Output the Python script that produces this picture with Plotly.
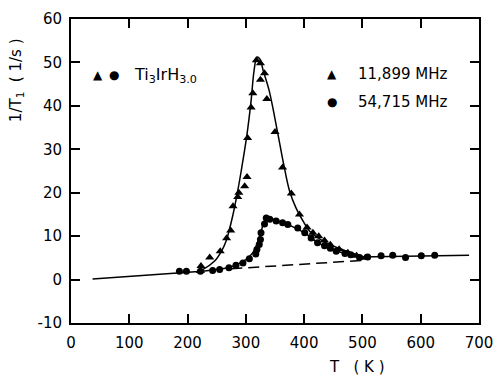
import plotly.graph_objects as go

# 11,899 MHz data (triangles)
tri_T = [222, 223, 238, 256, 267, 274, 278, 286, 288, 298, 302, 303, 309, 312, 318,
         325, 325, 332, 336, 350, 363, 378, 392, 405, 415, 425, 435, 445, 460, 475, 490, 505]
tri_v = [2.0, 3.1, 5.1, 6.5, 9.5, 11.3, 16.9, 19.0, 20.0, 21.5, 23.6, 32.6, 39.6, 42.9, 50.5,
         49.8, 46.0, 47.5, 41.6, 34.0, 25.8, 19.8, 15.0, 12.0, 10.8, 10.0, 9.0, 8.0, 7.0, 6.2, 5.5, 5.0]

# 54,715 MHz data (circles)
cir_T = [186, 198, 222, 243, 255, 271, 283, 295, 306, 317, 319, 323, 325, 326, 332, 335,
         341, 352, 363, 372, 389, 401, 412, 423, 435, 445, 455, 470, 480, 495, 509, 532,
         552, 574, 601, 624]
cir_v = [1.9, 1.9, 1.9, 2.1, 2.3, 2.7, 3.3, 3.8, 4.8, 5.9, 6.9, 8.1, 9.2, 10.8, 12.8, 14.2,
         13.9, 13.5, 13.1, 12.7, 11.9, 10.8, 9.6, 8.5, 7.8, 7.2, 6.5, 6.0, 5.7, 5.1, 5.2, 5.5,
         5.6, 5.1, 5.5, 5.6]

# fitted curves
fit_tri_T = [215, 226, 246, 258, 266, 278, 286, 292, 302, 309, 314, 319, 324, 330, 340, 355,
             365, 375, 386, 398, 409, 425, 443, 460, 478, 500]
fit_tri_v = [1.7, 2.3, 4.2, 6.5, 8.8, 15.0, 20.4, 25.0, 33.5, 41.2, 48.0, 51.2, 50.8, 48.0,
             43.5, 33.5, 26.5, 20.4, 16.5, 13.5, 11.2, 9.5, 8.1, 7.2, 6.3, 5.4]

fit_cir_T = [225, 250, 270, 285, 300, 312, 320, 326, 331, 337, 345, 360, 380, 400, 425, 455, 480, 500]
fit_cir_v = [1.9, 2.3, 2.8, 3.5, 4.6, 6.2, 8.5, 11.0, 13.2, 14.3, 14.0, 13.3, 12.2, 10.8, 8.4, 6.6, 5.7, 5.2]

# solid background segments (low-T part and high-T tail)
base_T = [37, 225, None, 495, 683]
base_v = [0.15, 1.9, None, 5.2, 5.6]

# dashed background under the peaks
dash_T = [275, 500]
dash_v = [2.5, 4.4]

x_ticks = [0, 100, 200, 300, 400, 500, 600, 700]
y_ticks = [-10, 0, 10, 20, 30, 40, 50, 60]
y_tick_text = ["-10", "0", "10", "20", "30", "40", "50", "60"]

FONT = "DejaVu Sans"

fig = go.Figure()
fig.add_trace(go.Scatter(x=base_T, y=base_v, mode="lines", connectgaps=False,
                         line=dict(color="black", width=1.5)))
fig.add_trace(go.Scatter(x=dash_T, y=dash_v, mode="lines",
                         line=dict(color="black", width=1.5, dash="11px,6px")))
fig.add_trace(go.Scatter(x=fit_tri_T, y=fit_tri_v, mode="lines", line_shape="spline",
                         line=dict(color="black", width=1.5)))
fig.add_trace(go.Scatter(x=fit_cir_T, y=fit_cir_v, mode="lines", line_shape="spline",
                         line=dict(color="black", width=1.5)))
fig.add_trace(go.Scatter(x=tri_T, y=tri_v, mode="markers",
                         marker=dict(symbol="triangle-up", size=8, color="black")))
fig.add_trace(go.Scatter(x=cir_T, y=cir_v, mode="markers",
                         marker=dict(symbol="circle", size=7, color="black")))

axis_common = dict(showline=True, linecolor="black", linewidth=2, mirror="ticks",
                   ticks="inside", ticklen=9, tickwidth=1.5, tickcolor="black",
                   showgrid=False, zeroline=False, automargin=False,
                   tickfont=dict(family=FONT, size=15, color="black"))

fig.update_xaxes(range=[0, 700], tickvals=x_ticks, ticklabelstandoff=5, **axis_common)
fig.update_yaxes(range=[-10, 60], tickvals=y_ticks, ticktext=y_tick_text,
                 ticklabelstandoff=4, **axis_common)

ann = [
    dict(x=45.5, y=47, text="▲", size=12),
    dict(x=74.6, y=47, text="●", size=12),
    dict(x=105, y=47, text="Ti<sub>3</sub>IrH<sub>3.0</sub>", xanchor="left", size=16),
    dict(x=448.6, y=47.3, text="▲", size=12),
    dict(x=448.6, y=41, text="●", size=12),
    dict(x=489, y=47.3, text="11,899 MHz", xanchor="left", size=15),
    dict(x=489, y=41, text="54,715 MHz", xanchor="left", size=15),
]
annotations = []
for a in ann:
    annotations.append(dict(xref="x", yref="y", showarrow=False,
                            xanchor=a.get("xanchor", "center"), yanchor="middle",
                            x=a["x"], y=a["y"], text=a["text"],
                            font=dict(family=FONT, color="black", size=a["size"])))

annotations.append(dict(xref="paper", yref="paper", x=-0.134, y=0.80,
                        text="1/T<sub>1</sub>  ( 1/s )",
                        textangle=-90, showarrow=False, xanchor="center", yanchor="middle",
                        font=dict(family=FONT, size=15, color="black")))
annotations.append(dict(xref="x", yref="paper", x=491, y=-0.145, text="T   ( K )",
                        showarrow=False, xanchor="center", yanchor="middle",
                        font=dict(family=FONT, size=15, color="black")))

fig.update_layout(width=494, height=375,
                  margin=dict(l=71, r=15, t=19, b=52, autoexpand=False),
                  plot_bgcolor="white", paper_bgcolor="white", showlegend=False,
                  annotations=annotations)

fig.write_html("out.html")
